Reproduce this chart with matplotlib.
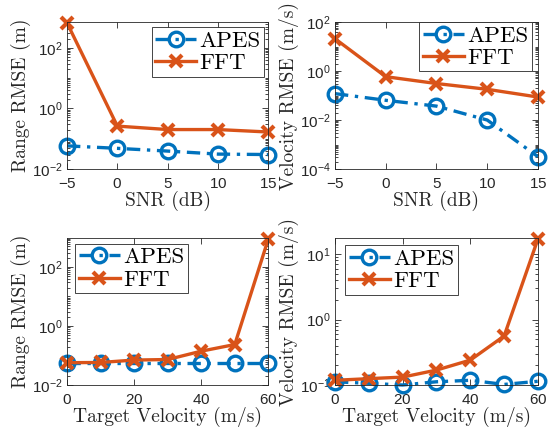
import numpy as np
import matplotlib
matplotlib.use('Agg')
import matplotlib.pyplot as plt
from matplotlib.ticker import LogLocator, FixedLocator, NullFormatter

plt.rcParams['font.family'] = ['Liberation Sans', 'DejaVu Sans']
plt.rcParams['axes.formatter.use_mathtext'] = True

# data
snr = [-5, 0, 5, 10, 15]
rng_apes_snr = [0.058, 0.048, 0.039, 0.031, 0.030]
rng_fft_snr = [660, 0.26, 0.20, 0.20, 0.166]
vel_apes_snr = [0.12, 0.064, 0.037, 0.010, 0.00032]
vel_fft_snr = [21, 0.59, 0.31, 0.18, 0.087]

tvel = [0, 10, 20, 30, 40, 50, 60]
rng_apes_v = [0.057, 0.057, 0.057, 0.057, 0.057, 0.057, 0.057]
rng_fft_v = [0.057, 0.058, 0.070, 0.073, 0.14, 0.235, 890]
vel_apes_v = [0.112, 0.106, 0.100, 0.112, 0.118, 0.102, 0.114]
vel_fft_v = [0.118, 0.125, 0.132, 0.169, 0.24, 0.56, 17]

blue = '#0072BD'
orange = '#D95319'
grey = '#262626'
lab_font = 'cmr10'

fig = plt.figure(figsize=(5.53, 4.32), dpi=100)

W = 0.364
H = 0.340
pos = {
    'tl': [0.1212, 0.6088, W, H],
    'tr': [0.6058, 0.6088, 0.367, H],
    'bl': [0.1212, 0.1088, W, H],
    'br': [0.6058, 0.1088, 0.367, H],
}


def panel(key, x, apes, fft, xlim, ylim, yticks, xticks, xlabel, ylabel, legloc, legbox):
    ax = fig.add_axes(pos[key])
    ax.plot(x, apes, linestyle=(0, (4, 2, 1, 2)), color=blue, lw=2.4,
            marker='o', ms=10.5, mfc='none', mew=2.4, label='APES', clip_on=False)
    ax.plot(x, fft, '-', color=orange, lw=2.4, marker='x', ms=9, mew=3,
            label='FFT', clip_on=False)
    ax.set_yscale('log')
    ax.set_xlim(xlim)
    ax.set_ylim(ylim)
    ax.yaxis.set_major_locator(FixedLocator(yticks))
    ax.yaxis.set_minor_locator(LogLocator(base=10, subs=np.arange(1, 10), numticks=50))
    ax.yaxis.set_minor_formatter(NullFormatter())
    ax.set_xticks(xticks)
    ax.tick_params(which='both', direction='in', top=True, right=True,
                   colors=grey, labelsize=11, width=0.6)
    ax.tick_params(which='major', length=4)
    ax.tick_params(which='minor', length=2)
    ax.tick_params(axis='x', pad=6)
    ax.tick_params(axis='y', pad=3)
    for s in ax.spines.values():
        s.set_color(grey)
        s.set_linewidth(0.6)
    ax.set_xlabel(xlabel, fontfamily=lab_font, fontsize=14, color=grey, labelpad=0)
    ax.set_ylabel(ylabel, fontfamily=lab_font, fontsize=14, color=grey, labelpad=1)
    leg = ax.legend(loc=legloc, bbox_to_anchor=legbox, prop={'family': lab_font, 'size': 16.5},
                    fancybox=False, edgecolor=grey, framealpha=1, handlelength=1.8,
                    handletextpad=0.15, borderpad=0.15, labelspacing=0.1, borderaxespad=0)
    leg.get_frame().set_linewidth(0.6)
    return ax


panel('tl', snr, rng_apes_snr, rng_fft_snr, (-5, 15), (1e-2, 700), [1e-2, 1, 1e2],
      [-5, 0, 5, 10, 15], 'SNR (dB)', 'Range RMSE (m)', 'upper right', (0.98, 0.965))
panel('tr', snr, vel_apes_snr, vel_fft_snr, (-5, 15), (1e-4, 1e2), [1e-4, 1e-2, 1, 1e2],
      [-5, 0, 5, 10, 15], 'SNR (dB)', 'Velocity RMSE (m/s)', 'upper right', (0.97, 1.0))
panel('bl', tvel, rng_apes_v, rng_fft_v, (0, 60), (1e-2, 950), [1e-2, 1, 1e2],
      [0, 20, 40, 60], 'Target Velocity (m/s)', 'Range RMSE (m)', 'upper left', (0.04, 0.96))
panel('br', tvel, vel_apes_v, vel_fft_v, (0, 60), (0.1, 17.5), [0.1, 1, 10],
      [0, 20, 40, 60], 'Target Velocity (m/s)', 'Velocity RMSE (m/s)', 'upper left', (0.05, 0.95))

plt.savefig('out.png', dpi=100)
